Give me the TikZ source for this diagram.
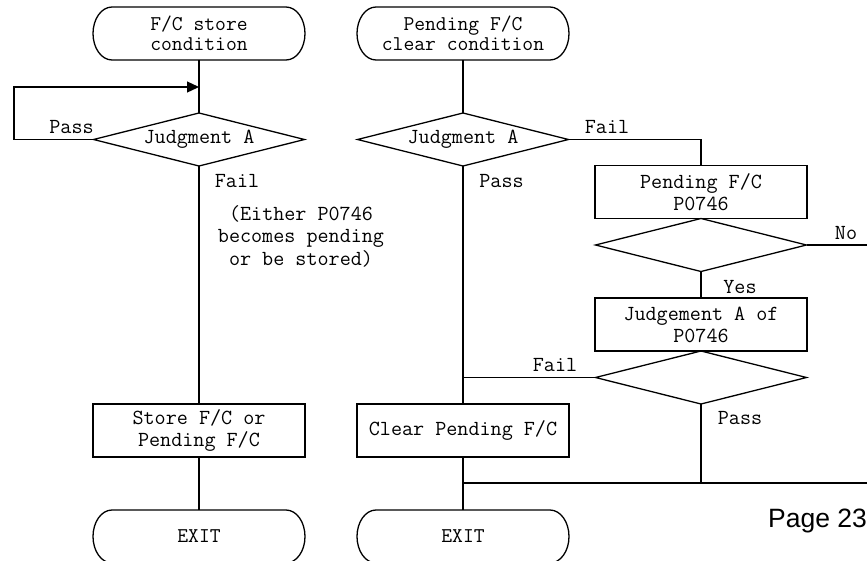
\documentclass[tikz,border=0pt]{standalone}
\usepackage{fontspec}
\setsansfont{Liberation Sans}
\usetikzlibrary{calc,arrows.meta,shapes.geometric}
\newcommand\termoutline[1]{%
  \draw ($(#1.north east)+(-19pt,0)$) arc[start angle=90,end angle=-90,x radius=19pt,y radius=26.5pt]
     -- ($(#1.south west)+(19pt,0)$) arc[start angle=270,end angle=90,x radius=19pt,y radius=26.5pt] -- cycle;}
\begin{document}
\begin{tikzpicture}[x=1pt,y=1pt,line width=1.3pt,
  txt/.style={font=\ttfamily\fontsize{21.5}{22}\selectfont},
  term/.style={txt,rectangle,minimum width=212pt,minimum height=53pt,inner sep=0pt,outer sep=0pt,align=center,font=\ttfamily\fontsize{21}{20}\selectfont},
  procbox/.style={txt,draw,rectangle,minimum width=212pt,minimum height=53pt,inner sep=0pt,outer sep=0pt,align=center},
  decision/.style={txt,draw,diamond,aspect=4,minimum width=211pt,minimum height=53pt,inner sep=0pt,outer sep=0pt},
  lbl/.style={txt,inner sep=0pt},
  tip/.style={-{Triangle[length=12pt,width=11pt]}}]
\useasboundingbox (0,0) rectangle (867,-560);
% left column
\node[term] (t1) at (199,-33.5) {F/C store\\condition};
\termoutline{t1}
\node[decision] (d1) at (199,-139.5) {Judgment A};
\node[procbox] (s1) at (199,-430.5) {Store F/C or\\Pending F/C};
\node[term] (e1) at (199,-536.5) {EXIT};
\termoutline{e1}
\coordinate (lp) at (14,-87);
\coordinate (arr) at (199,-87);
\node[lbl] (lpass) at (71.5,-127) {Pass};
\node[lbl] (lfail) at (237,-181) {Fail};
\node[txt,align=center,inner sep=0pt,font=\ttfamily\fontsize{21.5}{22.5}\selectfont] (note) at (301,-236) {(Either P0746\\becomes pending\\or be stored)};
\draw (t1.south) -- (d1.north);
\draw[tip] (d1.west) -| (lp) -- (arr);
\draw (d1.south) -- (s1.north);
\draw (s1.south) -- (e1.north);
% middle column
\node[term] (t2) at (463,-33.5) {Pending F/C\\clear condition};
\termoutline{t2}
\node[decision] (d2) at (463,-139.5) {Judgment A};
\node[procbox] (c2) at (463,-430.5) {Clear Pending F/C};
\node[term] (e2) at (463,-536.5) {EXIT};
\termoutline{e2}
\node[lbl] (mfail) at (607,-127) {Fail};
\node[lbl] (mpass) at (501.5,-181) {Pass};
\draw (t2.south) -- (d2.north);
\draw (d2.south) -- (c2.north);
\draw (c2.south) -- (e2.north);
% right column
\node[procbox] (p1) at (701,-192) {Pending F/C\\P0746};
\node[decision] (d3) at (701,-245) {};
\node[procbox] (j1) at (701,-324.5) {Judgement A of\\P0746};
\node[decision] (d4) at (701,-377.5) {};
\node[lbl] (rno) at (846,-233) {No};
\node[lbl] (ryes) at (740,-287) {Yes};
\node[lbl] (rfail) at (555,-365) {Fail};
\node[lbl] (rpass) at (740,-418) {Pass};
\coordinate (noend) at (867,-245);
\coordinate (fj) at (d4.west -| d2.south);
\coordinate (mj) at (463,-483);
\coordinate (rend) at (867,-483);
\draw (d2.east) -| (p1.north);
\draw (p1.south) -- (d3.north);
\draw (d3.east) -- (noend);
\draw (d3.south) -- (j1.north);
\draw (j1.south) -- (d4.north);
\draw (d4.west) -- (fj);
\draw (d4.south) -- (d4.south |- mj);
\draw (mj) -- (rend);
\node[font=\sffamily\fontsize{26.5}{30}\selectfont,inner sep=0pt,anchor=base] (page) at (817.5,-527) {Page 23};
\end{tikzpicture}
\end{document}
